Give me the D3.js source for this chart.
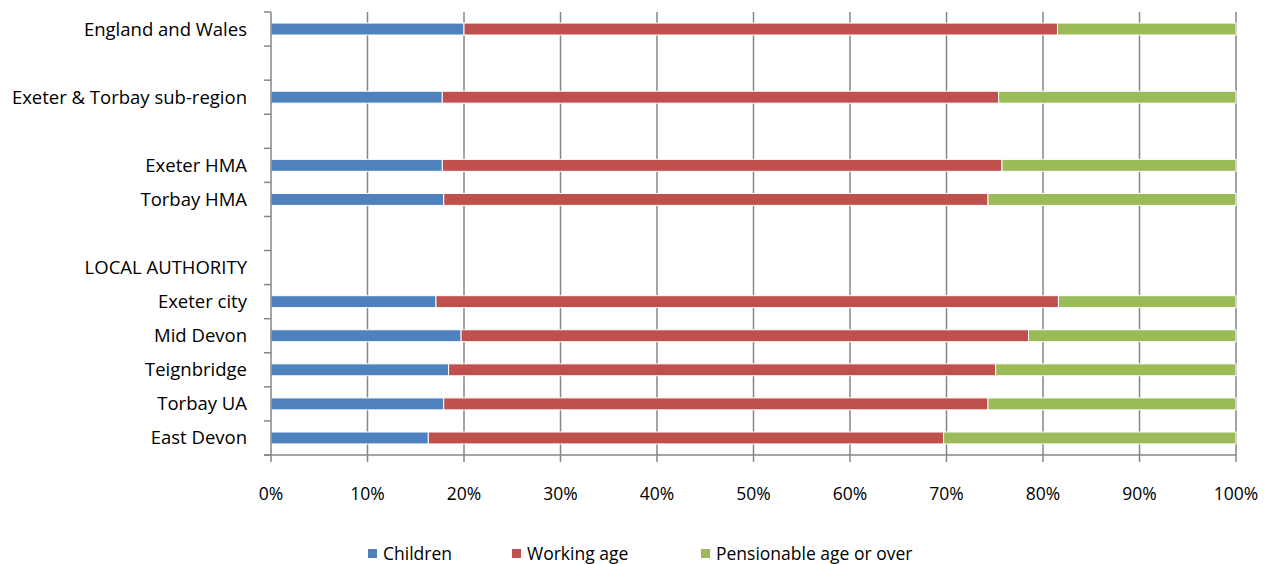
<!DOCTYPE html>
<html>
<head>
<meta charset="utf-8">
<script src="https://cdn.jsdelivr.net/npm/d3@7"></script>
<style>
  body { margin: 0; background: #fff; }
  svg text { font-family: "Open Sans", Lato, sans-serif; fill: #000; }
</style>
</head>
<body>
<svg id="chart" width="1276" height="564"></svg>
<script>
// Categories top to bottom ("" = empty spacer row)
const categories = ["England and Wales", "", "Exeter & Torbay sub-region", "", "Exeter HMA", "Torbay HMA", "", "LOCAL AUTHORITY", "Exeter city", "Mid Devon", "Teignbridge", "Torbay UA", "East Devon"];
// Shares in percent (null = no bar)
const children   = [20.0, null, 17.75, null, 17.75, 17.9, null, null, 17.1, 19.7, 18.4, 17.9, 16.3];
const workingAge = [61.5, null, 57.65, null, 58.0, 56.4, null, null, 64.5, 58.8, 56.7, 56.4, 53.4];
const pensionable= [18.5, null, 24.6, null, 24.25, 25.7, null, null, 18.4, 21.5, 24.9, 25.7, 30.3];
const seriesNames = ["Children", "Working age", "Pensionable age or over"];
const seriesColors = ["#4F81BD", "#C0504D", "#9BBB59"];
const xTicks = [0, 10, 20, 30, 40, 50, 60, 70, 80, 90, 100];

(function () {
const svg = d3.select("#chart");
const mLeft = 271, mRight = 1236, mTop = 12, mBottom = 455;
const gridColor = "#868686";
const fs = 17.5, fsY = 18.5;

const x = d3.scaleLinear().domain([0, 100]).range([mLeft, mRight]);
const y = d3.scaleBand().domain(d3.range(categories.length)).range([mTop, mBottom])
  .paddingInner(0.65).paddingOuter(0.325);
const step = y.step();

// vertical gridlines
svg.append("g").selectAll("line").data(xTicks.slice(1)).join("line")
  .attr("x1", d => x(d)).attr("x2", d => x(d))
  .attr("y1", mTop).attr("y2", mBottom)
  .attr("stroke", gridColor).attr("stroke-width", 1.5);

// stacked data
const segs = [];
categories.forEach((c, i) => {
  const vals = [children[i], workingAge[i], pensionable[i]];
  if (vals[0] == null) return;
  let acc = 0;
  vals.forEach((v, k) => { segs.push({ i, k, x0: acc, x1: acc + v }); acc += v; });
});
svg.append("g").selectAll("rect").data(segs).join("rect")
  .attr("x", d => x(d.x0)).attr("width", d => x(d.x1) - x(d.x0))
  .attr("y", d => y(d.i)).attr("height", y.bandwidth())
  .attr("fill", d => seriesColors[d.k])
  .attr("stroke", "#fff").attr("stroke-width", 1);

// y axis line + ticks
const yAxisG = svg.append("g");
yAxisG.append("line").attr("x1", mLeft).attr("x2", mLeft).attr("y1", mTop).attr("y2", mBottom)
  .attr("stroke", gridColor).attr("stroke-width", 1.5);
yAxisG.selectAll("line.tick").data(d3.range(categories.length + 1)).join("line")
  .attr("class", "tick")
  .attr("x1", mLeft - 7).attr("x2", mLeft)
  .attr("y1", d => mTop + d * step).attr("y2", d => mTop + d * step)
  .attr("stroke", gridColor).attr("stroke-width", 1.5);
yAxisG.selectAll("text").data(categories).join("text")
  .attr("x", 247).attr("y", (d, i) => y(i) + y.bandwidth() / 2)
  .attr("dy", "0.35em").attr("text-anchor", "end")
  .attr("font-size", fsY).text(d => d);

// x axis
const xAxisG = svg.append("g");
xAxisG.append("line").attr("x1", mLeft - 7).attr("x2", mRight).attr("y1", mBottom).attr("y2", mBottom)
  .attr("stroke", gridColor).attr("stroke-width", 1.5);
xAxisG.selectAll("line.tick").data(xTicks).join("line")
  .attr("class", "tick")
  .attr("x1", d => x(d)).attr("x2", d => x(d))
  .attr("y1", mBottom).attr("y2", mBottom + 7)
  .attr("stroke", gridColor).attr("stroke-width", 1.5);
xAxisG.selectAll("text").data(xTicks).join("text")
  .attr("x", d => x(d)).attr("y", 494).attr("dy", "0.35em")
  .attr("text-anchor", "middle").attr("font-size", fs)
  .text(d => d + "%");

// legend
const legendX = [368, 512, 701];
const lg = svg.append("g");
seriesNames.forEach((n, k) => {
  lg.append("rect").attr("x", legendX[k]).attr("y", 549).attr("width", 9).attr("height", 9)
    .attr("fill", seriesColors[k]);
  lg.append("text").attr("x", legendX[k] + 15).attr("y", 554).attr("dy", "0.35em")
    .attr("font-size", fs).text(n);
});
})();
</script>
</body>
</html>
